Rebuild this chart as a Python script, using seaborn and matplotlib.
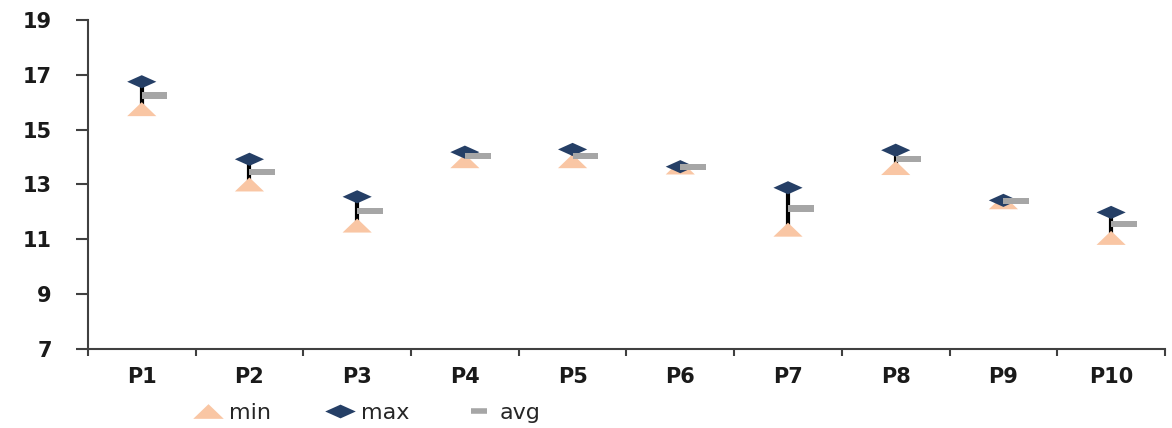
import numpy as np
import pandas as pd
import seaborn as sns
import matplotlib.pyplot as plt
from matplotlib.lines import Line2D

# data
cats = ["P1", "P2", "P3", "P4", "P5", "P6", "P7", "P8", "P9", "P10"]
min_vals = [15.75, 13.0, 11.5, 13.85, 13.85, 13.62, 11.35, 13.6, 12.35, 11.05]
max_vals = [16.75, 13.92, 12.55, 14.18, 14.28, 13.65, 12.88, 14.25, 12.42, 11.98]
avg_vals = [16.25, 13.45, 12.03, 14.05, 14.05, 13.65, 12.12, 13.93, 12.4, 11.55]

c_min = "#F9C6A4"
c_max = "#253F66"
c_avg = "#A6A6A6"

tri = [(-1, -0.48), (1, -0.48), (0, 0.48), (-1, -0.48)]
dia = [(-1, 0), (0, 0.45), (1, 0), (0, -0.45), (-1, 0)]
dash = [(0, -0.12), (1, -0.12), (1, 0.12), (0, 0.12), (0, -0.12)]

df = pd.DataFrame({"cat": cats, "min": min_vals, "max": max_vals, "avg": avg_vals})

sns.set_style("white")
plt.rcParams["font.family"] = ["DejaVu Sans"]

fig = plt.figure(figsize=(11.72, 4.28), dpi=100)
ax = fig.add_axes([0.075, 0.185, 0.919, 0.768])

xpos = np.arange(len(cats))
ax.vlines(xpos, df["min"], df["max"], color="black", lw=3, zorder=1)
sns.scatterplot(data=df, x="cat", y="min", marker=tri, s=21 ** 2, color=c_min,
                edgecolor="none", linewidth=0, ax=ax, zorder=2)
sns.scatterplot(data=df, x="cat", y="max", marker=dia, s=21 ** 2, color=c_max,
                edgecolor="none", linewidth=0, ax=ax, zorder=3)
sns.scatterplot(data=df, x="cat", y="avg", marker=dash, s=37 ** 2, color=c_avg,
                edgecolor="none", linewidth=0, ax=ax, zorder=4)

ax.set_xlim(-0.5, len(cats) - 0.5)
ax.set_ylim(7, 19)
ax.set_yticks(range(7, 20, 2))
ax.set_xticks(xpos)
ax.set_xticklabels(cats)
ax.set_xticks(np.arange(-0.5, len(cats)), minor=True)
ax.set_xlabel("")
ax.set_ylabel("")

for s in ["top", "right"]:
    ax.spines[s].set_visible(False)
for s in ["left", "bottom"]:
    ax.spines[s].set_color("#404040")
    ax.spines[s].set_linewidth(1.5)

ax.tick_params(axis="x", which="major", bottom=True, length=0, pad=13, labelsize=15,
               labelcolor="#1a1a1a")
ax.tick_params(axis="x", which="minor", bottom=True, length=5, width=1.5, color="#404040",
               direction="out")
ax.tick_params(axis="y", left=True, length=9, width=1.5, color="#404040", direction="out",
               pad=17, labelsize=15, labelcolor="#1a1a1a")
for lab in ax.get_xticklabels() + ax.get_yticklabels():
    lab.set_fontweight("bold")

handles = [
    Line2D([], [], ls="none", marker=tri, markersize=22, color=c_min, mew=0),
    Line2D([], [], ls="none", marker=dia, markersize=22, color=c_max, mew=0),
    Line2D([], [], ls="none", marker="_", markersize=11, color=c_avg, mew=4),
]
fig.legend(handles, ["min", "max", "avg"], loc="center", bbox_to_anchor=(0.312, 0.035),
           ncol=3, frameon=False, fontsize=16, handletextpad=0.15, columnspacing=2.3,
           handlelength=1.6)

fig.savefig("out.png", dpi=100)
